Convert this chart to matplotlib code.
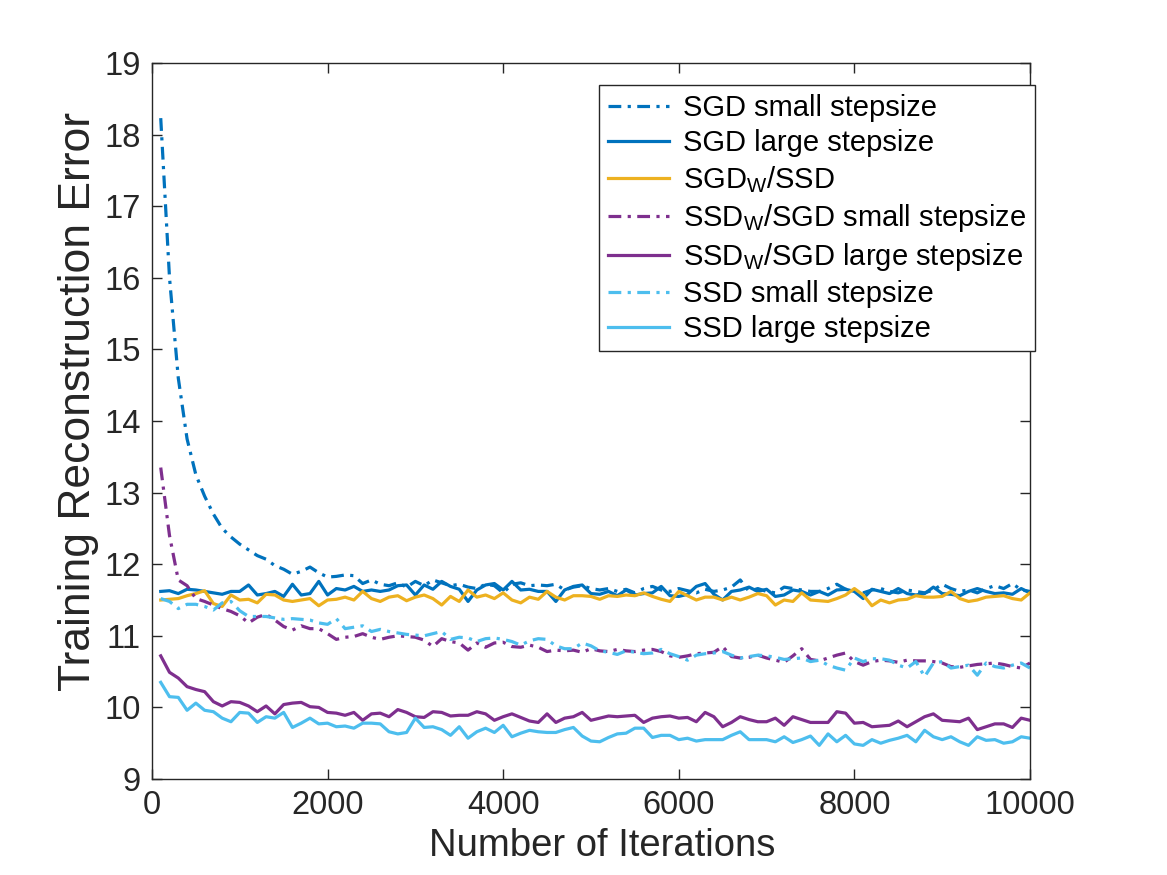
import numpy as np
import matplotlib
matplotlib.use("Agg")
import matplotlib.pyplot as plt

plt.rcParams['font.family'] = ['Liberation Sans', 'DejaVu Sans']
plt.rcParams['mathtext.fontset'] = 'custom'
plt.rcParams['mathtext.rm'] = 'Liberation Sans'

iterations = np.arange(100, 10001, 100)

sgd_small = [
    18.23, 16.00, 14.60, 13.75, 13.25, 12.95, 12.70, 12.50, 12.38, 12.28,
    12.20, 12.12, 12.07, 11.98, 11.93, 11.86, 11.90, 11.96, 11.88, 11.82,
    11.83, 11.85, 11.84, 11.73, 11.78, 11.72, 11.70, 11.74, 11.68, 11.76,
    11.70, 11.78, 11.74, 11.70, 11.72, 11.68, 11.66, 11.72, 11.70, 11.60,
    11.72, 11.74, 11.70, 11.71, 11.70, 11.72, 11.64, 11.68, 11.70, 11.66,
    11.64, 11.66, 11.62, 11.65, 11.60, 11.66, 11.69, 11.64, 11.62, 11.66,
    11.63, 11.60, 11.65, 11.62, 11.64, 11.68, 11.78, 11.62, 11.66, 11.62,
    11.60, 11.68, 11.66, 11.64, 11.62, 11.62, 11.66, 11.72, 11.65, 11.63,
    11.60, 11.64, 11.66, 11.62, 11.60, 11.64, 11.62, 11.60, 11.64, 11.72,
    11.66, 11.62, 11.64, 11.60, 11.66, 11.70, 11.66, 11.73, 11.64, 11.62]

sgd_large = [
    11.62, 11.63, 11.59, 11.65, 11.64, 11.62, 11.60, 11.58, 11.62, 11.62,
    11.71, 11.57, 11.59, 11.62, 11.55, 11.72, 11.57, 11.59, 11.76, 11.57,
    11.66, 11.64, 11.69, 11.62, 11.64, 11.62, 11.64, 11.70, 11.71, 11.57,
    11.71, 11.65, 11.76, 11.69, 11.65, 11.48, 11.64, 11.71, 11.73, 11.64,
    11.76, 11.64, 11.65, 11.62, 11.62, 11.48, 11.64, 11.69, 11.71, 11.59,
    11.58, 11.62, 11.56, 11.64, 11.57, 11.59, 11.60, 11.69, 11.56, 11.55,
    11.58, 11.69, 11.73, 11.58, 11.50, 11.62, 11.64, 11.68, 11.62, 11.65,
    11.55, 11.57, 11.64, 11.62, 11.57, 11.62, 11.57, 11.64, 11.65, 11.62,
    11.52, 11.65, 11.62, 11.59, 11.66, 11.59, 11.57, 11.59, 11.68, 11.59,
    11.58, 11.56, 11.62, 11.66, 11.62, 11.59, 11.60, 11.58, 11.66, 11.60]

sgdw_ssd = [
    11.50, 11.51, 11.52, 11.56, 11.59, 11.63, 11.45, 11.41, 11.57, 11.50,
    11.51, 11.46, 11.58, 11.57, 11.50, 11.48, 11.50, 11.52, 11.42, 11.50,
    11.51, 11.54, 11.50, 11.62, 11.52, 11.48, 11.54, 11.56, 11.49, 11.54,
    11.57, 11.52, 11.43, 11.55, 11.48, 11.64, 11.54, 11.57, 11.52, 11.60,
    11.50, 11.46, 11.54, 11.51, 11.62, 11.54, 11.50, 11.56, 11.56, 11.55,
    11.51, 11.56, 11.55, 11.57, 11.56, 11.60, 11.55, 11.51, 11.48, 11.62,
    11.56, 11.50, 11.54, 11.54, 11.50, 11.54, 11.50, 11.54, 11.59, 11.56,
    11.43, 11.50, 11.48, 11.60, 11.50, 11.49, 11.48, 11.52, 11.57, 11.66,
    11.57, 11.42, 11.50, 11.46, 11.50, 11.51, 11.56, 11.54, 11.54, 11.55,
    11.62, 11.52, 11.48, 11.50, 11.54, 11.55, 11.56, 11.52, 11.50, 11.60]

ssdw_sgd_small = [
    13.35, 12.40, 11.78, 11.70, 11.52, 11.48, 11.43, 11.38, 11.34, 11.28,
    11.18, 11.26, 11.30, 11.22, 11.13, 11.08, 11.14, 11.10, 11.10, 11.03,
    10.95, 10.98, 10.99, 11.03, 10.98, 10.95, 10.98, 11.00, 10.99, 10.98,
    10.94, 10.85, 10.96, 10.92, 10.90, 10.80, 10.90, 10.84, 10.90, 10.91,
    10.85, 10.84, 10.87, 10.84, 10.78, 10.80, 10.79, 10.80, 10.77, 10.82,
    10.79, 10.78, 10.81, 10.79, 10.78, 10.80, 10.81, 10.78, 10.72, 10.70,
    10.72, 10.75, 10.76, 10.77, 10.85, 10.71, 10.69, 10.70, 10.73, 10.69,
    10.66, 10.63, 10.72, 10.82, 10.67, 10.65, 10.69, 10.73, 10.76, 10.64,
    10.59, 10.64, 10.66, 10.65, 10.63, 10.66, 10.65, 10.65, 10.64, 10.62,
    10.57, 10.56, 10.58, 10.60, 10.61, 10.62, 10.60, 10.57, 10.55, 10.62]

ssdw_sgd_large = [
    10.72, 10.49, 10.41, 10.29, 10.25, 10.22, 10.08, 10.02, 10.08, 10.07,
    10.02, 9.94, 10.02, 9.91, 10.04, 10.06, 10.07, 10.01, 10.00, 9.93,
    9.92, 9.89, 9.93, 9.82, 9.91, 9.92, 9.87, 9.97, 9.93, 9.87,
    9.86, 9.94, 9.93, 9.88, 9.89, 9.89, 9.94, 9.91, 9.82, 9.87,
    9.91, 9.86, 9.81, 9.79, 9.91, 9.79, 9.85, 9.87, 9.93, 9.82,
    9.85, 9.88, 9.87, 9.88, 9.89, 9.79, 9.85, 9.87, 9.88, 9.85,
    9.86, 9.80, 9.93, 9.87, 9.73, 9.79, 9.87, 9.83, 9.80, 9.80,
    9.85, 9.75, 9.87, 9.83, 9.79, 9.79, 9.79, 9.94, 9.92, 9.78,
    9.79, 9.73, 9.74, 9.75, 9.81, 9.73, 9.80, 9.87, 9.91, 9.82,
    9.81, 9.80, 9.85, 9.69, 9.73, 9.77, 9.77, 9.72, 9.85, 9.82]

ssd_small = [
    11.52, 11.48, 11.38, 11.44, 11.44, 11.41, 11.36, 11.46, 11.48, 11.35,
    11.27, 11.27, 11.27, 11.25, 11.23, 11.24, 11.23, 11.22, 11.18, 11.16,
    11.24, 11.10, 11.12, 11.14, 11.06, 11.09, 11.06, 11.04, 11.02, 11.01,
    11.00, 11.03, 11.06, 10.95, 10.98, 10.97, 10.92, 10.96, 10.97, 10.95,
    10.92, 10.87, 10.93, 10.96, 10.95, 10.86, 10.82, 10.82, 10.90, 10.86,
    10.79, 10.77, 10.74, 10.79, 10.77, 10.75, 10.76, 10.81, 10.75, 10.71,
    10.66, 10.73, 10.75, 10.76, 10.78, 10.73, 10.69, 10.71, 10.73, 10.72,
    10.70, 10.67, 10.68, 10.69, 10.64, 10.66, 10.59, 10.55, 10.52, 10.69,
    10.64, 10.68, 10.68, 10.66, 10.59, 10.55, 10.64, 10.43, 10.62, 10.64,
    10.55, 10.57, 10.59, 10.45, 10.62, 10.57, 10.55, 10.59, 10.62, 10.55]

ssd_large = [
    10.35, 10.15, 10.14, 9.96, 10.06, 9.96, 9.94, 9.85, 9.80, 9.93,
    9.92, 9.79, 9.87, 9.85, 9.93, 9.72, 9.78, 9.85, 9.77, 9.78,
    9.73, 9.74, 9.71, 9.78, 9.78, 9.77, 9.66, 9.63, 9.65, 9.85,
    9.72, 9.73, 9.69, 9.61, 9.73, 9.57, 9.66, 9.71, 9.65, 9.75,
    9.59, 9.64, 9.68, 9.66, 9.65, 9.65, 9.69, 9.72, 9.60, 9.53,
    9.52, 9.58, 9.63, 9.64, 9.71, 9.71, 9.58, 9.61, 9.61, 9.55,
    9.57, 9.53, 9.55, 9.55, 9.55, 9.61, 9.66, 9.55, 9.55, 9.55,
    9.52, 9.59, 9.51, 9.55, 9.60, 9.47, 9.63, 9.52, 9.61, 9.49,
    9.47, 9.55, 9.50, 9.54, 9.57, 9.61, 9.52, 9.68, 9.59, 9.55,
    9.59, 9.52, 9.47, 9.59, 9.54, 9.55, 9.50, 9.52, 9.59, 9.57]

labels = [
    'SGD small stepsize',
    'SGD large stepsize',
    r'SGD$_{\mathregular{W}}$/SSD',
    r'SSD$_{\mathregular{W}}$/SGD small stepsize',
    r'SSD$_{\mathregular{W}}$/SGD large stepsize',
    'SSD small stepsize',
    'SSD large stepsize',
]

c_blue = '#0072BD'
c_yellow = '#EDB120'
c_purple = '#7E2F8E'
c_light = '#4DBEEE'
dashdot = (0, (4, 2, 1, 2))

series = [
    (sgd_small, c_blue, dashdot),
    (sgd_large, c_blue, '-'),
    (sgdw_ssd, c_yellow, '-'),
    (ssdw_sgd_small, c_purple, dashdot),
    (ssdw_sgd_large, c_purple, '-'),
    (ssd_small, c_light, dashdot),
    (ssd_large, c_light, '-'),
]

fig = plt.figure(figsize=(11.67, 8.75), dpi=100)
ax = fig.add_axes([0.1302, 0.1097, 0.7524, 0.8183])

for (vals, col, ls), lab in zip(series, labels):
    ax.plot(iterations, vals, color=col, linestyle=ls, linewidth=2.3, label=lab)

ax.set_xlim(0, 10000)
ax.set_ylim(9, 19)
ax.set_xticks([0, 2000, 4000, 6000, 8000, 10000])
ax.set_yticks(np.arange(9, 20, 1))

axcol = '#262626'
for s in ax.spines.values():
    s.set_color(axcol)
    s.set_linewidth(1.0)
ax.tick_params(direction='in', top=True, right=True, length=7, width=1.0,
               colors=axcol, labelsize=23.5, pad=8)
ax.set_xlabel('Number of Iterations', fontsize=27.5, color=axcol, labelpad=5)
ax.set_ylabel('Training Reconstruction Error', fontsize=32, color=axcol, labelpad=4)
ax.xaxis.label.set_x(0.5125)
ax.yaxis.label.set_y(0.527)

leg = ax.legend(loc='upper right', bbox_to_anchor=(1.006, 0.969), fontsize=21,
                frameon=True, fancybox=False, edgecolor=axcol, framealpha=1,
                handlelength=2.1, handletextpad=0.5, borderpad=0.3,
                labelspacing=0.24, borderaxespad=0.0)
leg.get_frame().set_linewidth(1.0)

fig.savefig('out.png', dpi=100)
